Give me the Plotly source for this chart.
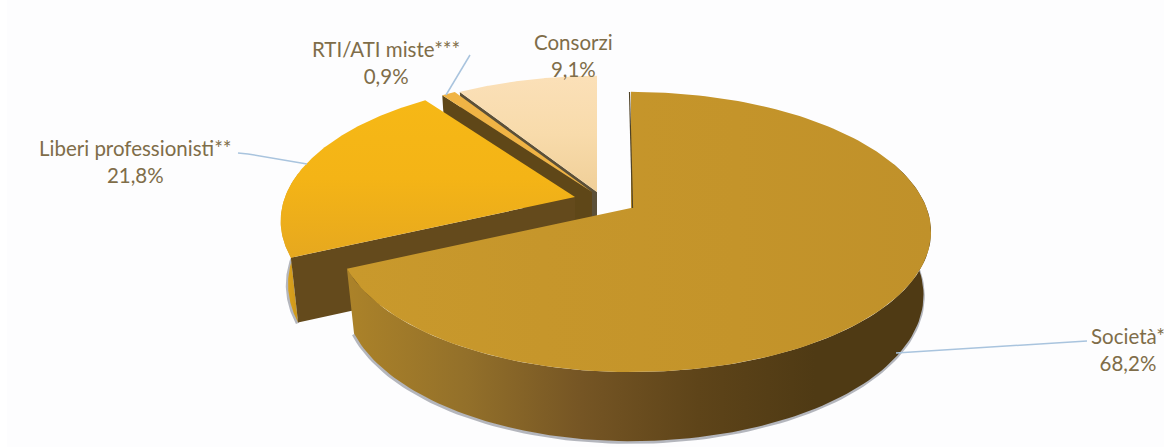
import numpy as np
import plotly.graph_objects as go

categories = ["Società*", "Liberi professionisti**", "RTI/ATI miste***", "Consorzi"]
values = [68.2, 21.8, 0.9, 9.1]
value_labels = ["68,2%", "21,8%", "0,9%", "9,1%"]

W, H = 1164, 447
K = 0.171
A = 136.0


def rim(ax, ay, theta, rl=290.0, rr=295.6, drop=False):
    s, c = np.sin(theta), np.cos(theta)
    den = 1 + K * c
    r = np.where(s < 0, rl, rr)
    x = r * s / den
    y = -A * c / den
    if drop:
        x = x * 0.975
        y = y + 62 / (1 + 0.6 * K * c)
    return ax + x, ay + y


def grad(kind, start, stop, stops):
    return dict(type=kind, start=start, stop=stop,
                colorscale=[[i / (len(stops) - 1), c] for i, c in enumerate(stops)])


fig = go.Figure()


def poly(x, y, color=None, gradient=None):
    kw = dict(fillgradient=gradient) if gradient else dict(fillcolor=color)
    fig.add_trace(go.Scatter(x=x, y=y, mode="lines", fill="toself", line=dict(width=0),
                             hoverinfo="skip", showlegend=False, **kw))


def top(ax, ay, t0, t1, **kw):
    th = np.linspace(t0, t1, 160)
    x, y = rim(ax, ay, th, rr=295.6)
    poly(np.r_[ax, x, ax], np.r_[ay, y, ay], **kw)


def side(ax, ay, t, color):
    x0, y0 = rim(ax, ay, np.array([t]))
    x1, y1 = rim(ax, ay, np.array([t]), drop=True)
    poly([ax, x0[0], x1[0], ax, ax], [ay, y0[0], y1[0], ay + 65, ay], color=color)


def outer(ax, ay, t0, t1, **kw):
    th = np.linspace(t0, t1, 120)
    xt, yt = rim(ax, ay, th)
    xb, yb = rim(ax, ay, th, drop=True)
    fig.add_trace(go.Scatter(x=xb - 0.5, y=yb + 1.0, mode="lines", hoverinfo="skip", showlegend=False,
                             line=dict(color="rgba(120,124,135,0.55)", width=3.5)))
    poly(np.r_[xt, xb[::-1]], np.r_[yt, yb[::-1]], **kw)


edges = np.radians(np.r_[0, np.cumsum(values)] * 3.6)
soc = (edges[0], edges[1])
lib = (edges[1], edges[2])
rti = (edges[2], edges[3])
con = (edges[3], edges[4])

CON, RTI, LIB, SOC = (597, 192), (592, 192), (575, 197), (631, 208)

# Consorzi (back)
side(*CON, con[0], "#5c5038")
top(*CON, *con, gradient=grad("vertical", 76, 192, ["#fbe0b8", "#f8dbab", "#f0cf98"]))

# RTI/ATI
side(*RTI, rti[0], "#5f4718")
top(*RTI, *rti, color="#f0b445")

# Liberi professionisti
outer(*LIB, lib[0], lib[0] + np.radians(35),
      gradient=grad("horizontal", 282, 300, ["#e3a81c", "#c9951c"]))
side(*LIB, lib[0], "#644a1c")
top(*LIB, *lib, gradient=grad("vertical", 100, 258, ["#f6b816", "#f4b416", "#e6a81f"]))

# Società
outer(*SOC, np.radians(70), soc[1],
      gradient=grad("horizontal", 350, 931, ["#ab8229", "#93702a", "#755524", "#5e4419", "#4f3a14", "#4f3a14"]))
top(*SOC, *soc, gradient=grad("horizontal", 350, 931, ["#c9992c", "#c6962b", "#c4942a", "#c0912a"]))

label_pos = [(1128, 349), (135, 161), (386, 62), (573, 55)]
annotations = [
    dict(x=px, y=py, xref="x", yref="y", showarrow=False, align="center",
         text=f"{c}<br>{v}", font=dict(family="Lato", size=20.5, color="#7f6d49"))
    for c, v, (px, py) in zip(categories, value_labels, label_pos)
]

leaders = [
    "M 1087 341 L 896 353",
    "M 238 153 L 248 154 L 307 164",
    "M 470 55 L 446 95",
]
shapes = [dict(type="path", path=p, line=dict(color="#a9c4de", width=1.5), layer="above") for p in leaders]
shapes.append(dict(type="line", x0=627, x1=627, y0=145, y1=206, line=dict(color="#77787c", width=3), layer="below"))
shapes.append(dict(type="line", x0=629.5, x1=632.5, y0=92, y1=208, line=dict(color="#4f4226", width=1.2), layer="above"))
shapes.append(dict(type="rect", x0=7, x1=W, y0=0, y1=H, line=dict(width=0), fillcolor="#fdfdfe", layer="below"))

fig.update_layout(
    width=W, height=H, margin=dict(l=0, r=0, t=0, b=0), autosize=False,
    paper_bgcolor="white", plot_bgcolor="white", showlegend=False,
    xaxis=dict(range=[0, W], visible=False, fixedrange=True),
    yaxis=dict(range=[H, 0], visible=False, fixedrange=True),
    annotations=annotations, shapes=shapes,
)
fig.write_html("out.html", config=dict(displayModeBar=False),
               post_script="document.body.style.margin='0';document.documentElement.style.overflow='hidden';")
